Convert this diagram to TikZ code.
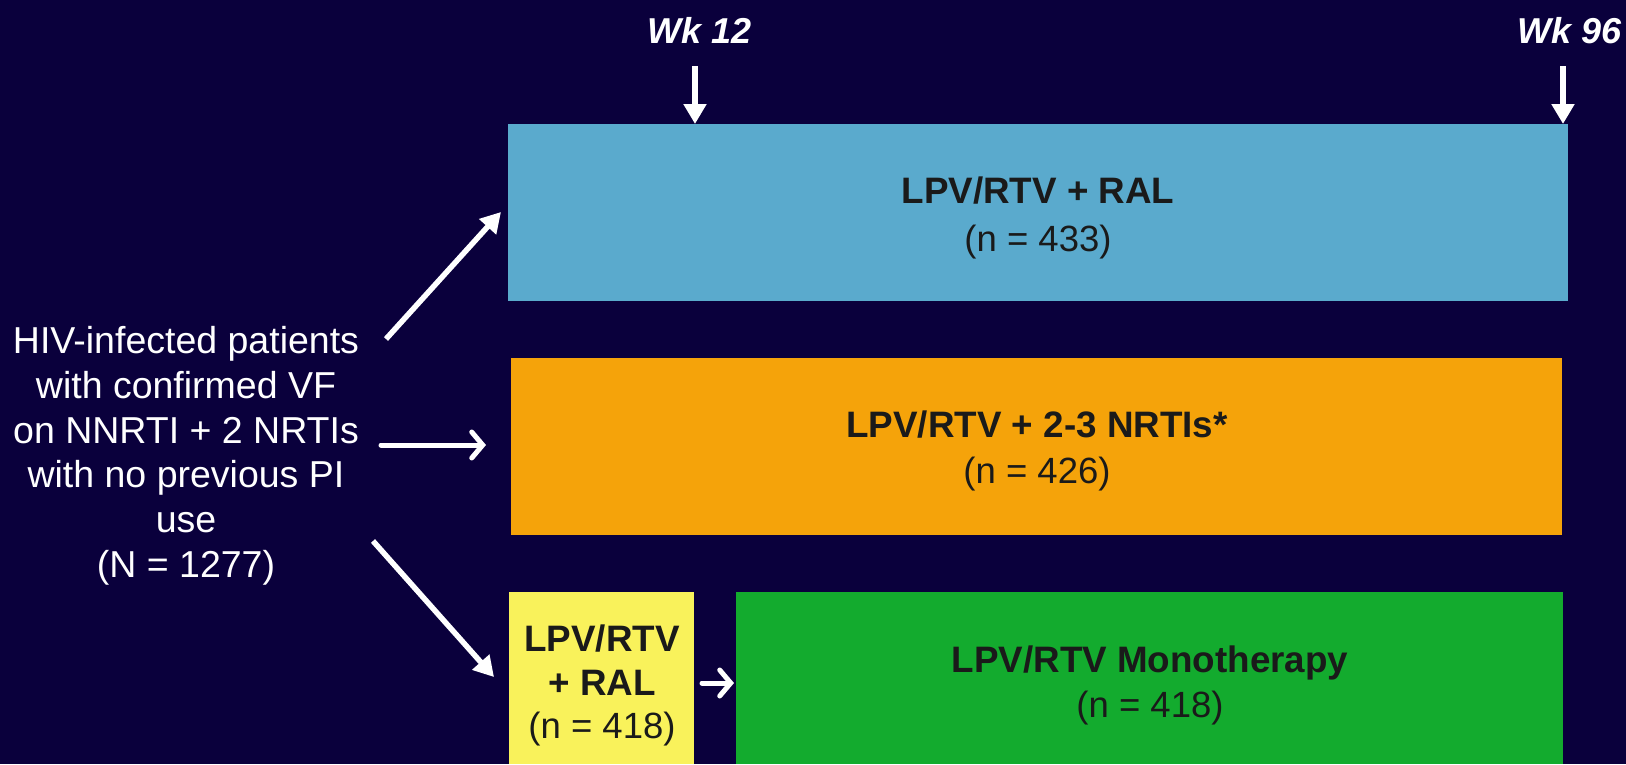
\documentclass[tikz,border=0pt]{standalone}
\usepackage{fontspec}
\setmainfont{Liberation Sans}
\usetikzlibrary{arrows.meta}
\definecolor{bgc}{HTML}{0A003C}
\definecolor{cblue}{HTML}{5AAACD}
\definecolor{corange}{HTML}{F5A30A}
\definecolor{cyellow}{HTML}{F9F25B}
\definecolor{cgreen}{HTML}{13AB2E}
\definecolor{ctext}{HTML}{1A1A1A}
\tikzset{
  box/.style={rectangle, draw=none, inner sep=0pt, anchor=north west},
  ln/.style={inner sep=0pt, anchor=base, font=\fontsize{36.5}{44}\selectfont},
  boxtitle/.style={ln, text=ctext, font=\fontsize{36.8}{44}\selectfont\bfseries},
  boxsub/.style={ln, text=ctext},
  lefttxt/.style={ln, text=white, font=\fontsize{37.5}{44}\selectfont},
  wk/.style={ln, text=white, font=\fontsize{36}{44}\selectfont\bfseries\itshape},
  fillarrow/.style={draw=white, line width=5.5pt, -{Triangle[length=20pt,width=22pt]}},
  barbarrow/.style={draw=white, line width=5pt, line cap=round, -{Straight Barb[length=11pt,width=26pt,line cap=round]}},
}
\begin{document}
\begin{tikzpicture}[x=1pt,y=-1pt]
\useasboundingbox (0,0) rectangle (1626,764);
\fill[bgc] (0,0) rectangle (1626,764);

% boxes
\node[box, fill=cblue, minimum width=1060pt, minimum height=177pt] (blue) at (508,124) {};
\node[box, fill=corange, minimum width=1051pt, minimum height=177pt] (orange) at (511,358) {};
\node[box, fill=cyellow, minimum width=185pt, minimum height=172pt] (yellow) at (509,592) {};
\node[box, fill=cgreen, minimum width=827pt, minimum height=172pt] (green) at (736,592) {};

% box texts
\node[boxtitle] (blueT) at (1038,203) {LPV/RTV + RAL};
\node[boxsub] (blueS) at (1038,251) {(n = 433)};
\node[boxtitle] (orangeT) at (1037,437) {LPV/RTV + 2-3 NRTIs*};
\node[boxsub] (orangeS) at (1037,483) {(n = 426)};
\node[boxtitle] (yellowT1) at (602,651) {LPV/RTV};
\node[boxtitle] (yellowT2) at (602,695) {+ RAL};
\node[boxsub] (yellowS) at (602,738) {(n = 418)};
\node[boxtitle] (greenT) at (1150,672) {LPV/RTV Monotherapy};
\node[boxsub] (greenS) at (1150,717) {(n = 418)};

% left text
\node[lefttxt] (L1) at (186,353) {HIV-infected patients};
\node[lefttxt] (L2) at (186,398) {with confirmed VF};
\node[lefttxt] (L3) at (186,443) {on NNRTI + 2 NRTIs};
\node[lefttxt] (L4) at (186,487) {with no previous PI};
\node[lefttxt] (L5) at (186,532) {use};
\node[lefttxt] (L6) at (186,577) {(N = 1277)};

% week labels
\node[wk] (wk12) at (700,43) {Wk 12};
\node[wk] (wk96) at (1570,43) {Wk 96};

% arrow endpoints
\coordinate (w12s) at (695,66);
\coordinate (w12e) at (695,124);
\coordinate (w96s) at (1563,66);
\coordinate (w96e) at (1563,124);
\coordinate (upS) at (386,339);
\coordinate (upE) at (501,212);
\coordinate (midS) at (381,445);
\coordinate (midE) at (486,445);
\coordinate (loS) at (373,541);
\coordinate (loE) at (494,677);
\coordinate (ygS) at (702,683);
\coordinate (ygE) at (734,683);

\draw[fillarrow] (w12s) -- (w12e);
\draw[fillarrow] (w96s) -- (w96e);
\draw[fillarrow] (upS) -- (upE);
\draw[fillarrow] (loS) -- (loE);
\draw[barbarrow] (midS) -- (midE);
\draw[barbarrow] (ygS) -- (ygE);
\end{tikzpicture}
\end{document}
